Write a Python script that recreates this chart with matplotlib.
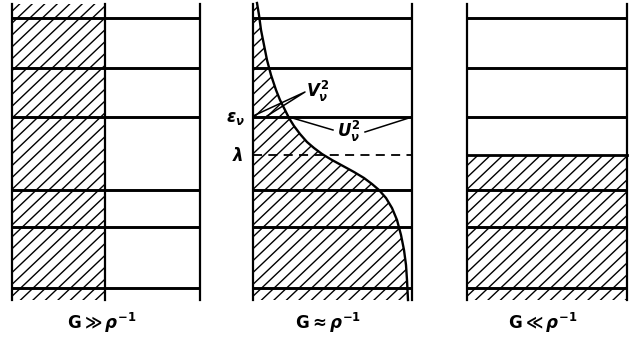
import numpy as np
import matplotlib.pyplot as plt
from matplotlib.patches import Polygon

plt.rcParams['mathtext.fontset'] = 'custom'
plt.rcParams['mathtext.it'] = 'DejaVu Sans:italic:bold'
plt.rcParams['mathtext.rm'] = 'DejaVu Sans:bold'
plt.rcParams['mathtext.bf'] = 'DejaVu Sans:bold'

#-------------------------------------------------------------------------------
# data (diagram units: x,y in picture pixels, y grows downward)
#-------------------------------------------------------------------------------
levels = [18, 68, 117, 190, 227, 288]     # single particle levels
lam = 155                                 # Fermi level lambda
eps_level = 117                           # level labelled eps_nu
# occupation curve v^2 for G ~ 1/rho (y, x)
curve_y = [3, 15, 30, 45, 60, 75, 90, 100, 110, 118, 126, 134, 142, 148,
           154, 160, 166, 172, 178, 184, 190, 198, 208, 220, 235, 250, 265,
           280, 300]
curve_x = [257, 259, 261, 264, 267, 271, 276, 280, 285, 289, 294, 300, 307,
           314, 322, 332, 343, 354, 364, 372, 379, 386, 392, 397, 401, 404,
           406, 407, 408]
labels = [r'$\mathrm{G} \gg \rho^{-1}$', r'$\mathrm{G} \approx \rho^{-1}$',
          r'$\mathrm{G} \ll \rho^{-1}$']

# panel layout: left edge, right edge
panels = [(12, 200), (253, 412), (467, 627)]
half_x = 105        # fill edge of the first panel
top, bottom = 4, 300

fig = plt.figure(figsize=(6.32, 3.46), dpi=100)
ax = fig.add_axes([0, 0, 1, 1])
ax.set_xlim(0, 632)
ax.set_ylim(346, 0)
ax.axis('off')

def hatch(poly_xy, spacing=12.5, slope=0.95):
    patch = Polygon(poly_xy, closed=True, facecolor='none', edgecolor='none')
    ax.add_patch(patch)
    xs = [p[0] for p in poly_xy]
    x0, x1 = min(xs) - 400, max(xs) + 400
    for c in np.arange(x0, x1, spacing):
        xx = np.array([c, c + 400])
        yy = bottom + 20 - slope * (xx - c)
        ln, = ax.plot(xx, yy, color='black', lw=1.0, solid_capstyle='butt')
        ln.set_clip_path(patch)

# panel 1 : every level half filled
l, r = panels[0]
hatch([(l, top), (half_x, top), (half_x, bottom), (l, bottom)])
ax.plot([half_x, half_x], [top, bottom], color='black', lw=1.6)

# panel 2 : smeared occupation
l, r = panels[1]
poly = [(l, top)] + list(zip(curve_x, curve_y)) + [(l, bottom)]
hatch(poly)
ax.plot(curve_x, curve_y, color='black', lw=1.7)
ax.plot([l, r], [lam, lam], color='black', lw=1.3, dashes=(5, 3.5))

# panel 3 : sharp Fermi surface
l, r = panels[2]
hatch([(l, lam), (r, lam), (r, bottom), (l, bottom)])
ax.plot([l, r], [lam, lam], color='black', lw=2.0)

for (l, r), lab in zip(panels, labels):
    ax.plot([l, l], [top, bottom], color='black', lw=1.6)
    ax.plot([r, r], [top, bottom], color='black', lw=1.6)
    for y in levels:
        ax.plot([l, r], [y, y], color='black', lw=2.1, solid_capstyle='butt')
    ax.text((l + r) / 2 - 4, 323, lab, ha='center', va='center', fontsize=12)

# annotations in middle panel
l, r = panels[1]
ax.text(235, eps_level + 1, r'$\epsilon_\nu$', ha='center', va='center', fontsize=12)
ax.text(238, lam + 1, r'$\lambda$', ha='center', va='center', fontsize=12)
ax.text(318, 91, r'$V_\nu^2$', ha='center', va='center', fontsize=12)
ax.text(349, 131, r'$U_\nu^2$', ha='center', va='center', fontsize=12)
ax.plot([l, 305, l + 14], [eps_level - 1, 92, eps_level - 1], color='black', lw=1.1)
ax.plot([289, 333], [eps_level, 130], color='black', lw=1.1)
ax.plot([365, r], [132, eps_level], color='black', lw=1.1)

plt.savefig('out.png', dpi=100)
